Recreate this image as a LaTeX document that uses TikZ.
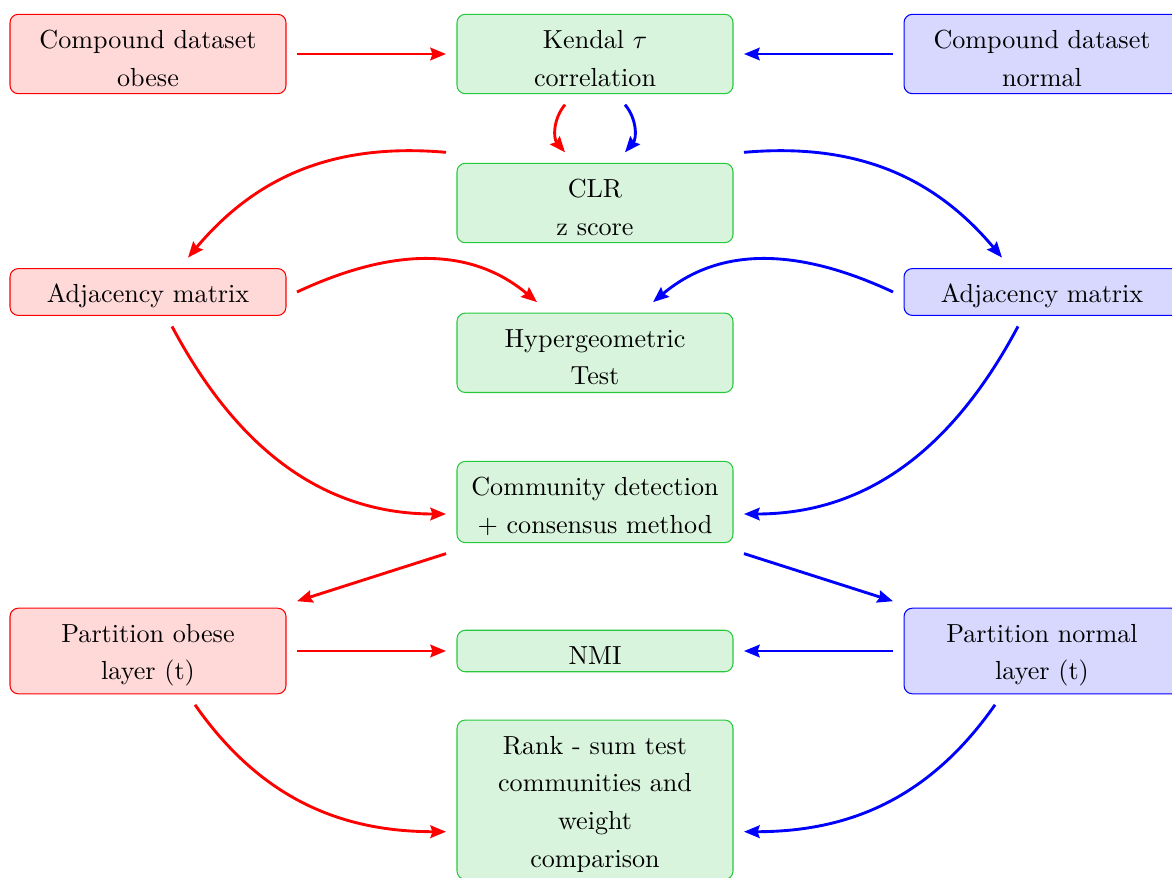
\documentclass[tikz,border=0pt]{standalone}
\usetikzlibrary{arrows.meta}
\definecolor{rfill}{RGB}{255,216,216}
\definecolor{gfill}{RGB}{217,244,221}
\definecolor{bfill}{RGB}{216,216,255}
\definecolor{gdraw}{RGB}{40,200,60}
\newcommand\fstrut{\rule{0pt}{10.3pt}}
\tikzset{
  box/.style={rounded corners=3.2pt, align=center, minimum width=105.7pt,
    inner xsep=4pt, inner ysep=2.8pt, outer sep=4.2pt,
    font=\fontsize{10}{14.4}\selectfont},
  rbox/.style={box, draw=red, fill=rfill},
  gbox/.style={box, draw=gdraw, fill=gfill},
  bbox/.style={box, draw=blue, fill=bfill},
  conn/.style={line width=1.1pt, -{Stealth[length=6pt,width=4.8pt,inset=0.8pt]}},
  rarr/.style={conn, red},
  barr/.style={conn, blue}
}
\begin{document}
\begin{tikzpicture}[x=0.383pt, y=0.383pt]
\clip (0,0) rectangle (1172,-877);
\useasboundingbox (0,0) rectangle (1172,-877);
% nodes
\node[rbox] (obese1) at (148,-54) {\fstrut Compound dataset\\obese};
\node[gbox] (kendal) at (595,-54) {\fstrut Kendal $\tau$\\correlation};
\node[bbox] (normal1) at (1042,-54) {\fstrut Compound dataset\\normal};
\node[gbox] (clr) at (595,-203) {\fstrut CLR\\z score};
\node[rbox] (adjO) at (148,-292) {\fstrut Adjacency matrix};
\node[bbox] (adjN) at (1042,-292) {\fstrut Adjacency matrix};
\node[gbox] (hyper) at (595,-352.8) {\fstrut Hypergeometric\\Test};
\node[gbox] (comm) at (595,-502) {\fstrut Community detection\\+ consensus method};
\node[rbox] (partO) at (148,-651) {\fstrut Partition obese\\layer (t)};
\node[gbox] (nmi) at (595,-651) {\fstrut NMI};
\node[bbox] (partN) at (1042,-651) {\fstrut Partition normal\\layer (t)};
\node[gbox] (rank) at (595,-799.7) {\fstrut Rank - sum test\\communities and\\weight\\comparison};
% connectors
\draw[rarr] (obese1.east) -- (kendal.west);
\draw[barr] (normal1.west) -- (kendal.east);
\draw[rarr] ([shift={(-30,0)}]kendal.south) to[bend right=40] ([shift={(-30,0)}]clr.north);
\draw[barr] ([shift={(30,0)}]kendal.south) to[bend left=40] ([shift={(30,0)}]clr.north);
\draw[rarr] (clr.north west) to[out=175, in=50] ([shift={(40,0)}]adjO.north);
\draw[barr] (clr.north east) to[out=5, in=130] ([shift={(-40,0)}]adjN.north);
\draw[rarr] (adjO.east) to[out=25, in=140] ([shift={(-58,0)}]hyper.north);
\draw[barr] (adjN.west) to[out=155, in=40] ([shift={(58,0)}]hyper.north);
\draw[rarr] ([shift={(24,0)}]adjO.south) to[out=-62, in=180] ([shift={(0,-12)}]comm.west);
\draw[barr] ([shift={(-24,0)}]adjN.south) to[out=-118, in=0] ([shift={(0,-12)}]comm.east);
\draw[rarr] (comm.south west) -- ([shift={(0,-4)}]partO.north east);
\draw[barr] (comm.south east) -- ([shift={(0,-4)}]partN.north west);
\draw[rarr] (partO.east) -- (nmi.west);
\draw[barr] (partN.west) -- (nmi.east);
\draw[rarr] ([shift={(47,0)}]partO.south) to[out=-55, in=180] ([shift={(0,-32)}]rank.west);
\draw[barr] ([shift={(-47,0)}]partN.south) to[out=-125, in=0] ([shift={(0,-32)}]rank.east);
\end{tikzpicture}
\end{document}
